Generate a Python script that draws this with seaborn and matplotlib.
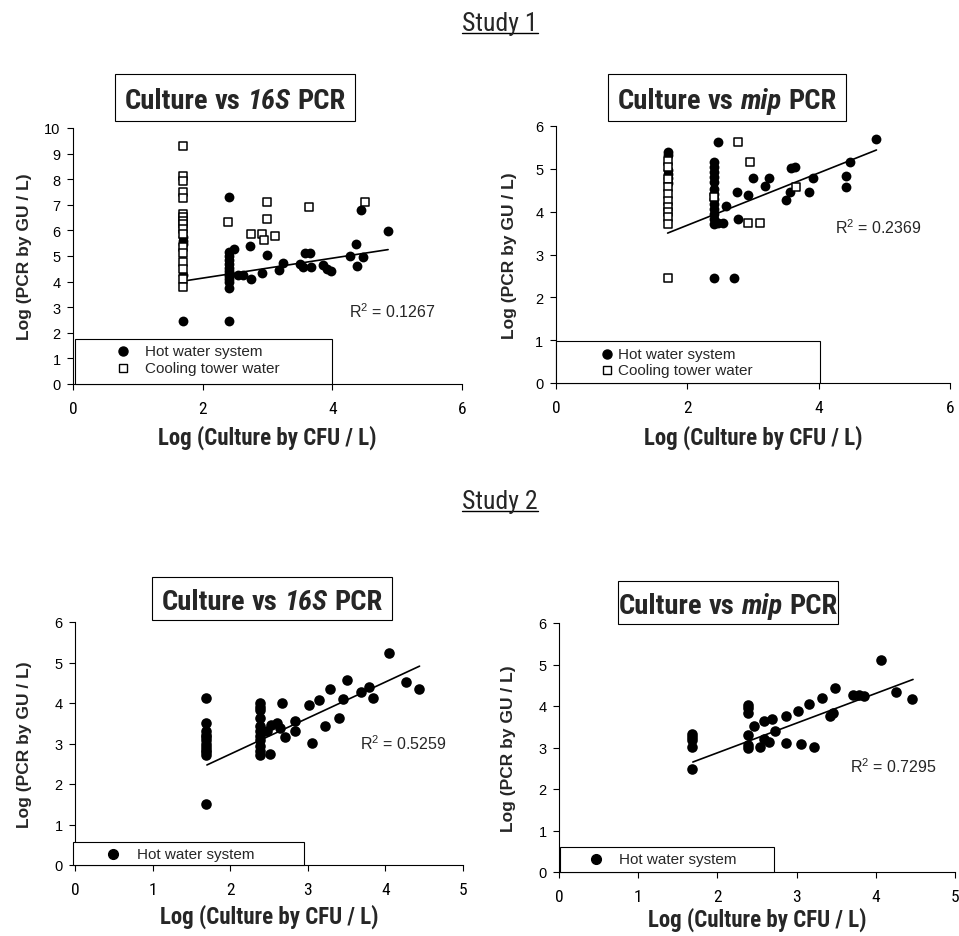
import numpy as np
import pandas as pd
import matplotlib
matplotlib.use("Agg")
import matplotlib.pyplot as plt
import seaborn as sns
from matplotlib.patches import Rectangle
from matplotlib.lines import Line2D

# ---------------- data ----------------
# Study 1, Culture vs 16S PCR
s1_16s_hot_x = [1.70, 1.70, 1.70, 1.70, 1.70,
                2.40, 2.40, 2.40, 2.40, 2.40, 2.40, 2.40, 2.40, 2.40, 2.40, 2.40, 2.40, 2.40,
                2.49, 2.55, 2.62, 2.75, 2.73, 2.91, 2.99, 3.18, 3.24, 3.50, 3.58, 3.65, 3.55,
                3.67, 3.86, 3.92, 3.98, 4.28, 4.37, 4.47, 4.38, 4.44, 4.86]
s1_16s_hot_y = [5.75, 5.60, 5.45, 4.25, 2.45,
                7.32, 5.15, 5.00, 4.85, 4.70, 4.55, 4.40, 4.30, 4.20, 4.10, 4.00, 3.75, 2.45,
                5.28, 4.25, 4.25, 4.10, 5.39, 4.34, 5.04, 4.47, 4.71, 4.69, 5.12, 5.12, 4.56,
                4.56, 4.64, 4.50, 4.40, 5.01, 5.47, 4.95, 4.60, 6.81, 5.99]
s1_16s_cool_x = [1.70] * 17 + [2.39, 2.99, 2.99, 2.75, 2.91, 2.95, 3.11, 3.64, 4.50]
s1_16s_cool_y = [9.31, 8.14, 7.94, 7.51, 7.25, 6.64, 6.51, 6.38, 6.25, 6.05, 5.85,
                 5.37, 5.11, 4.77, 4.49, 4.12, 3.78,
                 6.33, 7.10, 6.45, 5.86, 5.86, 5.63, 5.80, 6.93, 7.12]
s1_16s_trend_x = [1.70, 4.86]
s1_16s_trend_y = [4.02, 5.25]
s1_16s_r2 = "0.1267"

# Study 1, Culture vs mip PCR
s1_mip_hot_x = [1.70, 1.70, 1.70, 1.70, 1.70, 1.70,
                2.40, 2.40, 2.40, 2.40, 2.40, 2.40, 2.40, 2.40, 2.40, 2.40, 2.40, 2.40, 2.40, 2.40,
                2.47, 2.47, 2.54, 2.59, 2.71, 2.77, 2.75, 2.93, 3.00, 3.18, 3.24, 3.50, 3.56,
                3.58, 3.64, 3.86, 3.91, 4.41, 4.41, 4.47, 4.88]
s1_mip_hot_y = [5.40, 5.32, 4.98, 4.88, 4.78, 4.68,
                5.16, 5.04, 4.92, 4.81, 4.69, 4.53, 4.42, 4.30, 4.18, 4.07, 3.95, 3.83, 3.72, 2.44,
                5.62, 3.73, 3.73, 4.14, 2.44, 3.84, 4.47, 4.40, 4.78, 4.61, 4.78, 4.27, 4.45,
                5.01, 5.04, 4.47, 4.78, 4.83, 4.58, 5.17, 5.69]
s1_mip_cool_x = [1.70] * 11 + [2.40, 2.77, 2.93, 3.10, 2.95, 3.65]
s1_mip_cool_y = [5.19, 5.04, 4.77, 4.57, 4.42, 4.26, 4.12, 4.00, 3.88, 3.72, 2.44,
                 4.34, 5.62, 3.74, 3.74, 5.17, 4.57]
s1_mip_trend_x = [1.70, 4.88]
s1_mip_trend_y = [3.50, 5.44]
s1_mip_r2 = "0.2369"

# Study 2, Culture vs 16S PCR
s2_16s_hot_x = [1.69] * 12 + [2.38] * 11 + [
    2.51, 2.47, 2.53, 2.60, 2.64, 2.67, 2.71, 2.84, 2.84, 3.02, 3.06, 3.15, 3.22,
    3.29, 3.40, 3.45, 3.50, 3.69, 3.79, 3.84, 4.04, 4.26, 4.43]
s2_16s_hot_y = [4.13, 3.50, 3.30, 3.22, 3.15, 3.08, 3.00, 2.92, 2.85, 2.78, 2.72, 1.50,
                3.99, 3.90, 3.83, 3.64, 3.43, 3.30, 3.18, 3.08, 2.95, 2.82, 2.72,
                2.74, 3.31, 3.45, 3.50, 3.38, 3.99, 3.16, 3.56, 3.30, 3.94, 3.01, 4.08, 3.43,
                4.35, 3.62, 4.11, 4.58, 4.26, 4.40, 4.12, 5.24, 4.52, 4.34]
s2_16s_trend_x = [1.70, 4.44]
s2_16s_trend_y = [2.47, 4.91]
s2_16s_r2 = "0.5259"

# Study 2, Culture vs mip PCR
s2_mip_hot_x = [1.68] * 5 + [2.39] * 6 + [
    2.46, 2.54, 2.59, 2.59, 2.65, 2.69, 2.73, 2.86, 2.86, 3.02, 3.06, 3.16, 3.22,
    3.32, 3.42, 3.46, 3.49, 3.71, 3.79, 3.85, 4.06, 4.26, 4.46]
s2_mip_hot_y = [3.33, 3.25, 3.17, 3.01, 2.49,
                4.03, 3.94, 3.83, 3.29, 3.05, 3.00,
                3.51, 3.01, 3.65, 3.21, 3.13, 3.68, 3.40, 3.76, 3.12, 3.87, 3.08, 4.06, 3.01,
                4.19, 3.76, 3.83, 4.44, 4.27, 4.27, 4.23, 5.12, 4.34, 4.16]
s2_mip_trend_x = [1.69, 4.47]
s2_mip_trend_y = [2.65, 4.64]
s2_mip_r2 = "0.7295"

hot_label = "Hot water system"
cool_label = "Cooling tower water"
xlabel = "Log (Culture by CFU / L)"
ylabel = "Log (PCR by GU / L)"

# ---------------- style ----------------
sns.set_style("ticks")
NARROW = ["Liberation Sans Narrow", "Roboto Condensed", "Liberation Sans", "DejaVu Sans"]
ARIAL = ["Liberation Sans", "DejaVu Sans"]
plt.rcParams["font.family"] = ARIAL
plt.rcParams["mathtext.fontset"] = "custom"
plt.rcParams["mathtext.rm"] = "Liberation Sans"

W, H = 959, 937
fig = plt.figure(figsize=(W / 100, H / 100), dpi=100)
fig.patch.set_facecolor("white")


def fx(px):
    return px / W


def fy(py):
    return 1 - py / H


def make_axes(left, right, top, bottom):
    return fig.add_axes([fx(left), fy(bottom), (right - left) / W, (bottom - top) / H])


def style_axes(ax, xmax, xstep, ymax, ylab_x, xlab_y):
    ax.set_xlim(0, xmax)
    ax.set_ylim(0, ymax)
    ax.set_xticks(np.arange(0, xmax + 0.01, xstep))
    ax.set_yticks(np.arange(0, ymax + 0.01, 1))
    ax.set_xticklabels([f"{v:g}" for v in np.arange(0, xmax + 0.01, xstep)],
                       family=NARROW, fontsize=12.5)
    ax.set_yticklabels([f"{v:g}" for v in np.arange(0, ymax + 0.01, 1)],
                       family=ARIAL, fontsize=10.5)
    sns.despine(ax=ax)
    for sp in ("left", "bottom"):
        ax.spines[sp].set_color("black")
        ax.spines[sp].set_linewidth(0.8)
    ax.tick_params(axis="both", direction="out", length=4, width=0.8, color="black",
                   labelcolor="black")
    ax.tick_params(axis="x", pad=8)
    ax.tick_params(axis="y", pad=5)
    ax.set_xlabel(xlabel, family=NARROW, fontweight="bold", fontsize=16.5)
    ax.set_ylabel(ylabel, family=ARIAL, fontweight="bold", fontsize=12.5)
    ax.xaxis.set_label_coords(0.5, xlab_y)
    ax.yaxis.set_label_coords(ylab_x, 0.5)
    ax.set_facecolor("white")


def scatter(ax, xs, ys, kind, s):
    df = pd.DataFrame({"culture": xs, "pcr": ys})
    if kind == "hot":
        sns.scatterplot(data=df, x="culture", y="pcr", ax=ax, marker="o", s=s,
                        color="black", edgecolor="black", linewidth=0, zorder=3)
    else:
        sns.scatterplot(data=df, x="culture", y="pcr", ax=ax, marker="s", s=s,
                        color="white", edgecolor="black", linewidth=1.1, zorder=4)


def trend(ax, xs, ys):
    sns.lineplot(x=xs, y=ys, ax=ax, color="black", linewidth=1.2, zorder=2)


def legend_box(ax, x0, x1, top, rows, mx, tx, circ_s, sq_s):
    ax.add_patch(Rectangle((x0, 0), x1 - x0, top, transform=ax.transAxes,
                           facecolor="white", edgecolor="black", linewidth=0.8,
                           clip_on=False, zorder=10))
    for (ry, kind, label) in rows:
        if kind == "hot":
            ax.add_line(Line2D([mx], [ry], transform=ax.transAxes, marker="o",
                               markersize=circ_s, color="black", linestyle="none",
                               clip_on=False, zorder=11))
        else:
            ax.add_line(Line2D([mx], [ry], transform=ax.transAxes, marker="s",
                               markersize=sq_s, markerfacecolor="white",
                               markeredgecolor="black", markeredgewidth=1.0,
                               linestyle="none", clip_on=False, zorder=11))
        ax.text(tx, ry, label, transform=ax.transAxes, fontsize=11, family=ARIAL,
                va="center", ha="left", zorder=12)


# ---------------- panels ----------------
ax1 = make_axes(73, 462, 129, 385)
scatter(ax1, s1_16s_hot_x, s1_16s_hot_y, "hot", 50)
scatter(ax1, s1_16s_cool_x, s1_16s_cool_y, "cool", 34)
trend(ax1, s1_16s_trend_x, s1_16s_trend_y)
style_axes(ax1, 6, 2, 10, -0.105, -0.16)
ax1.text(4.25, 2.85, "R$^2$ = " + s1_16s_r2, fontsize=11.5, va="center", ha="left")
legend_box(ax1, 0.005, 0.666, 0.176,
           [(0.127, "hot", hot_label), (0.062, "cool", cool_label)],
           0.129, 0.185, 6.5, 6)

ax2 = make_axes(556, 950, 127, 384)
scatter(ax2, s1_mip_hot_x, s1_mip_hot_y, "hot", 50)
scatter(ax2, s1_mip_cool_x, s1_mip_cool_y, "cool", 34)
trend(ax2, s1_mip_trend_x, s1_mip_trend_y)
style_axes(ax2, 6, 2, 6, -0.098, -0.16)
ax2.text(4.25, 3.64, "R$^2$ = " + s1_mip_r2, fontsize=11.5, va="center", ha="left")
legend_box(ax2, 0.0, 0.670, 0.165,
           [(0.113, "hot", hot_label), (0.050, "cool", cool_label)],
           0.129, 0.157, 6.5, 6)

ax3 = make_axes(75, 463, 623, 866)
scatter(ax3, s2_16s_hot_x, s2_16s_hot_y, "hot", 58)
trend(ax3, s2_16s_trend_x, s2_16s_trend_y)
style_axes(ax3, 5, 1, 6, -0.112, -0.16)
ax3.text(3.67, 3.02, "R$^2$ = " + s2_16s_r2, fontsize=11.5, va="center", ha="left")
legend_box(ax3, -0.005, 0.590, 0.095, [(0.045, "hot", hot_label)],
           0.098, 0.160, 7, 6)

ax4 = make_axes(559, 955, 624, 873)
scatter(ax4, s2_mip_hot_x, s2_mip_hot_y, "hot", 58)
trend(ax4, s2_mip_trend_x, s2_mip_trend_y)
style_axes(ax4, 5, 1, 6, -0.108, -0.14)
ax4.text(3.67, 2.57, "R$^2$ = " + s2_mip_r2, fontsize=11.5, va="center", ha="left")
legend_box(ax4, 0.0025, 0.543, 0.10, [(0.053, "hot", hot_label)],
           0.093, 0.151, 7, 6)

# ---------------- titles ----------------
renderer = fig.canvas.get_renderer()


def text_width(t):
    return t.get_window_extent(renderer=renderer).width


def title_box(x0, x1, y0, y1, parts, size):
    fig.patches.append(Rectangle((fx(x0), fy(y1)), (x1 - x0) / W, (y1 - y0) / H,
                                 transform=fig.transFigure, facecolor="white",
                                 edgecolor="black", linewidth=0.8, zorder=5))
    size_px = size * 100 / 72
    baseline = (y0 + y1) / 2 + 0.36 * size_px
    probe1 = fig.text(0, 0, "x x", fontsize=size, fontweight="bold", family=NARROW)
    probe2 = fig.text(0, 0, "xx", fontsize=size, fontweight="bold", family=NARROW)
    space = text_width(probe1) - text_width(probe2)
    probe1.remove()
    probe2.remove()
    texts = []
    for word, style in parts:
        t = fig.text(0, fy(baseline), word, fontsize=size, fontweight="bold",
                     fontstyle=style, family=NARROW, va="baseline", ha="left", zorder=6)
        texts.append(t)
    widths = [text_width(t) for t in texts]
    total = sum(widths) + space * (len(texts) - 1)
    x = (x0 + x1) / 2 - total / 2
    for t, w in zip(texts, widths):
        t.set_x(fx(x))
        x += w + space


def study_label(xc, yc, s, size):
    t = fig.text(fx(xc), fy(yc), s, fontsize=size, family=NARROW, ha="center",
                 va="center")
    bb = t.get_window_extent(renderer=renderer)
    y_line = bb.y0 + 2
    fig.lines.append(Line2D([bb.x0 / W, bb.x1 / W], [y_line / H, y_line / H],
                            transform=fig.transFigure, color="black", linewidth=1.0))


title_box(115, 355, 75, 122, [("Culture", "normal"), ("vs", "normal"),
                              ("16S", "italic"), ("PCR", "normal")], 20.5)
title_box(608, 846, 75, 122, [("Culture", "normal"), ("vs", "normal"),
                              ("mip", "italic"), ("PCR", "normal")], 20.5)
title_box(152, 392, 578, 621, [("Culture", "normal"), ("vs", "normal"),
                               ("16S", "italic"), ("PCR", "normal")], 20.5)
title_box(618, 838, 582, 625, [("Culture", "normal"), ("vs", "normal"),
                               ("mip", "italic"), ("PCR", "normal")], 20.5)

study_label(500, 24, "Study 1", 18.5)
study_label(500, 502, "Study 2", 18.5)

fig.savefig("out.png", dpi=100, facecolor="white")
